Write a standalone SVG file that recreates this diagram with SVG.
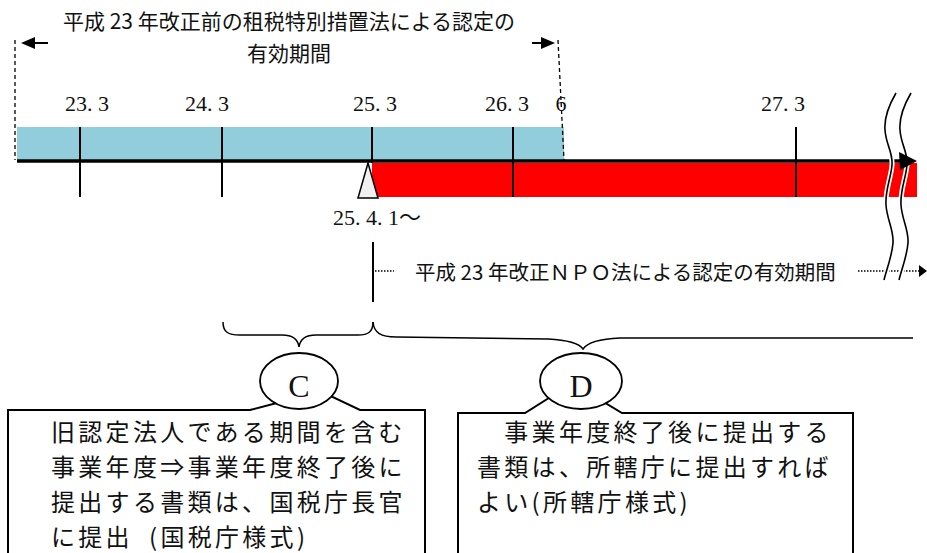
<svg xmlns="http://www.w3.org/2000/svg" width="927" height="553" viewBox="0 0 927 553">
<style>
.jp{font-family:"Noto Sans CJK JP",sans-serif;fill:#111}
.bx{font-size:24px;letter-spacing:3.3px}
.num{font-family:"Liberation Serif","Noto Sans CJK JP",serif;font-size:22px;fill:#111}
.ser{font-family:"Liberation Serif","Noto Sans CJK JP",serif;fill:#111}
.ln{stroke:#000;fill:none}
.dash{stroke:#000;stroke-width:1.3;stroke-dasharray:4 3;fill:none}
.dot{stroke:#000;stroke-width:1.3;stroke-dasharray:1.5 1.5;fill:none}
.box{fill:#fff;stroke:#000;stroke-width:2}
.ell{fill:#fff;stroke:#000;stroke-width:1.8}
.brk{fill:none;stroke:#fff;stroke-width:5}
.brkl{fill:none;stroke:#000;stroke-width:1.6}
</style>
<rect width="927" height="553" fill="#fff"/>

<g id="bars">
  <rect x="17" y="127" width="547" height="33" fill="#92CDDC"/>
  <rect x="372" y="163" width="545" height="34" fill="#FF0000"/>
</g>

<g id="title">
  <text class="jp" x="289" y="29" font-size="21" text-anchor="middle">平成 23 年改正前の租税特別措置法による認定の</text>
  <text class="jp" x="289" y="61" font-size="21" text-anchor="middle">有効期間</text>
</g>

<g id="connectors">
  <line class="dash" x1="15" y1="40" x2="15" y2="160"/>
  <line class="dash" x1="558" y1="40" x2="564" y2="160"/>
  <line class="ln" stroke-width="2" x1="30" y1="43" x2="48" y2="43"/>
  <polygon points="21,43 35,37 35,49" fill="#000"/>
  <line class="ln" stroke-width="2" x1="532" y1="43" x2="545" y2="43"/>
  <polygon points="555,43 541,37 541,49" fill="#000"/>
  <line class="ln" stroke-width="3.3" x1="17" y1="161" x2="902" y2="161"/>
  <line class="ln" stroke-width="2" x1="373" y1="242" x2="373" y2="302"/>
  <line class="dot" x1="375" y1="271" x2="394" y2="271"/>
  <line class="dot" x1="858" y1="271" x2="920" y2="271"/>
  <polygon points="919,265 927,271 919,277" fill="#000"/>
  <path class="ln" stroke-width="1.5" d="M223,322 C223,332 228,335 240,335 L282,335 C292,335 298,339 299,347 C300,339 306,335 316,335 L358,335 C368,335 373,332 373,322"/>
  <path class="ln" stroke-width="1.5" d="M373,322 C374,333 381,337 396,337 L548,339 C568,340 579,343 583,349 C587,343 598,339 620,338 L913,338"/>
</g>

<g id="ticks">
  <line class="ln" stroke-width="2" x1="80" y1="127" x2="80" y2="197"/>
  <line class="ln" stroke-width="2" x1="222" y1="127" x2="222" y2="197"/>
  <line class="ln" stroke-width="2" x1="372" y1="127" x2="372" y2="163"/>
  <line class="ln" stroke-width="2" x1="513" y1="127" x2="513" y2="197"/>
  <line class="ln" stroke-width="2" x1="796" y1="127" x2="796" y2="197"/>
</g>

<g id="labels">
  <text class="num" x="87" y="111" text-anchor="middle">23. 3</text>
  <text class="num" x="207" y="111" text-anchor="middle">24. 3</text>
  <text class="num" x="375" y="111" text-anchor="middle">25. 3</text>
  <text class="num" x="507" y="111" text-anchor="middle">26. 3</text>
  <text class="num" x="561" y="111" text-anchor="middle">6</text>
  <text class="num" x="783" y="111" text-anchor="middle">27. 3</text>
</g>

<g id="marker">
  <polygon points="368,163 358,198 378,198" fill="#f0f0f0" stroke="#000" stroke-width="1.5"/>
  <text class="num" x="333" y="225">25. 4. 1～</text>
</g>

<g id="npo-period">
  <text class="jp" x="415" y="280" font-size="20.5">平成 23 年改正ＮＰＯ法による認定の有効期間</text>
</g>

<g id="break">
  <path class="brk" d="M896,93 C889,105 884,118 885,130 C886,145 893,152 892,165 C891,178 885,190 886,205 C887,220 894,230 893,243 C892,256 887,268 884,280"/>
  <path class="brkl" d="M896,93 C889,105 884,118 885,130 C886,145 893,152 892,165 C891,178 885,190 886,205 C887,220 894,230 893,243 C892,256 887,268 884,280"/>
  <path class="brk" d="M911,93 C904,105 899,118 900,130 C901,145 908,152 907,165 C906,178 900,190 901,205 C902,220 909,230 908,243 C907,256 902,268 899,280"/>
  <path class="brkl" d="M911,93 C904,105 899,118 900,130 C901,145 908,152 907,165 C906,178 900,190 901,205 C902,220 909,230 908,243 C907,256 902,268 899,280"/>
  <polygon points="899,152 917,161 900,170" fill="#000"/>
</g>

<g id="node-c">
  <path class="box" d="M8,560 V410 H250 L292,399 L316,389 L360,410 H425 V560"/>
  <ellipse class="ell" cx="299" cy="381" rx="39" ry="28"/>
  <text class="ser" x="299" y="397" font-size="32" text-anchor="middle">C</text>
  <text class="jp bx">
    <tspan x="51" y="441">旧認定法人である期間を含む</tspan>
    <tspan x="51" y="476">事業年度⇒事業年度終了後に</tspan>
    <tspan x="51" y="511">提出する書類は、国税庁長官</tspan>
    <tspan x="51" y="546">に提出</tspan><tspan x="149" y="546">(国税庁様式)</tspan>
  </text>
</g>

<g id="node-d">
  <path class="box" d="M458,560 V413 H525 L560,391 L592,395 L622,413 H853 V560"/>
  <ellipse class="ell" cx="581" cy="381" rx="41" ry="28"/>
  <text class="ser" x="581" y="397" font-size="32" text-anchor="middle">D</text>
  <text class="jp bx">
    <tspan x="477" y="441">　事業年度終了後に提出する</tspan>
    <tspan x="477" y="476">書類は、所轄庁に提出すれば</tspan>
    <tspan x="477" y="511">よい(所轄庁様式)</tspan>
  </text>
</g>
</svg>
